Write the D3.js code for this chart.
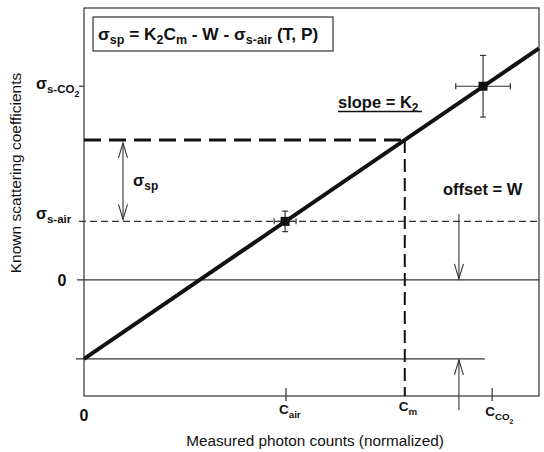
<!DOCTYPE html>
<html>
<head>
<meta charset="utf-8">
<script src="https://cdn.jsdelivr.net/npm/d3@7"></script>
<style>
  html, body { margin: 0; padding: 0; background: #fff; }
  svg { display: block; font-family: "Liberation Sans", Arial, sans-serif; }
</style>
</head>
<body>
<svg id="chart" width="544" height="452"></svg>
<script>
// Calibration model (normalized units)
const K2 = 3.93;          // slope
const W = 1.0;            // offset
const sigmaAir = 0.74;    // known scattering of air
const sigmaCO2 = 2.45;    // known scattering of CO2
const xDomain = [0, 1];
const yDomain = [-1.47, 3.44];

// Positions on the count axis
const xTicks = [
  { key: "0", x: 0 },
  { key: "air", x: 0.444 },
  { key: "m", x: 0.705 },
  { key: "CO2", x: 0.897 }
];
const Cm = 0.705;
const arrowX = 0.824;

// Calibration points with error bars
const points = [
  { name: "air", x: 0.442, y: sigmaAir, ex: 0.024, ey: 0.13 },
  { name: "CO2", x: 0.877, y: sigmaCO2, ex: 0.06, ey: 0.39 }
];

const svg = d3.select("#chart");
const x = d3.scaleLinear().domain(xDomain).range([84, 539]);
const y = d3.scaleLinear().domain(yDomain).range([396, 8]);
const fit = v => -W + K2 * v;
const ink = "#111";

// Frame
svg.append("rect")
  .attr("x", x(0)).attr("y", y(yDomain[1]))
  .attr("width", x(1) - x(0)).attr("height", y(yDomain[0]) - y(yDomain[1]))
  .attr("fill", "none").attr("stroke", "#333").attr("stroke-width", 1.2);

// Zero level and offset level
svg.append("line")
  .attr("x1", x(0) - 7).attr("x2", x(1)).attr("y1", y(0)).attr("y2", y(0))
  .attr("stroke", "#333").attr("stroke-width", 1.2);
svg.append("line")
  .attr("x1", x(0) - 8).attr("x2", x(0.881)).attr("y1", y(-W)).attr("y2", y(-W))
  .attr("stroke", "#333").attr("stroke-width", 1.2);

// Air scattering level
svg.append("line")
  .attr("x1", x(0) - 5).attr("x2", x(1)).attr("y1", y(sigmaAir)).attr("y2", y(sigmaAir))
  .attr("stroke", "#333").attr("stroke-width", 1.1).attr("stroke-dasharray", "7,4");

// CO2 tick on the y axis
svg.append("line")
  .attr("x1", x(0) - 5).attr("x2", x(0)).attr("y1", y(sigmaCO2)).attr("y2", y(sigmaCO2))
  .attr("stroke", "#333").attr("stroke-width", 1.2);

// Measured level and count
const sm = fit(Cm);
svg.append("line")
  .attr("x1", x(0)).attr("x2", x(Cm)).attr("y1", y(sm)).attr("y2", y(sm))
  .attr("stroke", ink).attr("stroke-width", 3).attr("stroke-dasharray", "17,8");
svg.append("line")
  .attr("x1", x(Cm)).attr("x2", x(Cm)).attr("y1", y(sm)).attr("y2", y(yDomain[0]))
  .attr("stroke", ink).attr("stroke-width", 2).attr("stroke-dasharray", "13,6");

// X ticks
svg.selectAll(".xtick").data(xTicks.filter(d => d.key !== "0" && d.key !== "m"))
  .join("line")
  .attr("x1", d => x(d.x)).attr("x2", d => x(d.x))
  .attr("y1", y(yDomain[0]) - 8).attr("y2", y(yDomain[0]) + 5)
  .attr("stroke", "#333").attr("stroke-width", 1.2);

// Regression line
svg.append("line")
  .attr("x1", x(0)).attr("y1", y(fit(0)))
  .attr("x2", x(1)).attr("y2", y(fit(1)))
  .attr("stroke", ink).attr("stroke-width", 4);

// Error bars and points
points.forEach(p => {
  const g = svg.append("g").attr("stroke", "#333").attr("stroke-width", 1.2);
  g.append("line").attr("x1", x(p.x - p.ex)).attr("x2", x(p.x + p.ex)).attr("y1", y(p.y)).attr("y2", y(p.y));
  g.append("line").attr("x1", x(p.x)).attr("x2", x(p.x)).attr("y1", y(p.y - p.ey)).attr("y2", y(p.y + p.ey));
  [p.x - p.ex, p.x + p.ex].forEach(v => g.append("line")
    .attr("x1", x(v)).attr("x2", x(v)).attr("y1", y(p.y) - 3).attr("y2", y(p.y) + 3));
  [p.y - p.ey, p.y + p.ey].forEach(v => g.append("line")
    .attr("x1", x(p.x) - 3).attr("x2", x(p.x) + 3).attr("y1", y(v)).attr("y2", y(v)));
  svg.append("rect").attr("x", x(p.x) - 4.5).attr("y", y(p.y) - 4.5)
    .attr("width", 9).attr("height", 9).attr("fill", ink);
});

// Open arrowheads
function arrow(x0, y0, y1, heads) {
  const g = svg.append("g").attr("stroke", "#333").attr("stroke-width", 1.1).attr("fill", "none");
  g.append("line").attr("x1", x0).attr("x2", x0).attr("y1", y0).attr("y2", y1);
  heads.forEach(h => {
    const tip = h === "start" ? y0 : y1;
    const dir = h === "start" ? Math.sign(y1 - y0) : Math.sign(y0 - y1);
    g.append("path").attr("d", `M${x0 - 4.5},${tip + dir * 15}L${x0},${tip}L${x0 + 4.5},${tip + dir * 15}`);
  });
}
arrow(123, y(sm) + 3, y(sigmaAir) - 2, ["start", "end"]);
arrow(x(arrowX), y(sigmaAir) - 7, y(0) - 1, ["end"]);
arrow(x(arrowX), y(yDomain[0]) + 14, y(-W) + 1, ["end"]);

// Text helpers
function sub(textSel, parts) {
  parts.forEach(([t, isSub, size]) => {
    const ts = textSel.append("tspan").text(t);
    if (isSub) ts.attr("dy", 4).attr("font-size", size || "0.72em");
    else ts.attr("dy", textSel.node().lastSub ? -4 : 0);
    textSel.node().lastSub = isSub;
  });
}

// Equation box
svg.append("rect").attr("x", 93).attr("y", 17).attr("width", 240).attr("height", 34)
  .attr("fill", "#fff").attr("stroke", "#333").attr("stroke-width", 1.2);
const eq = svg.append("text").attr("x", 98).attr("y", 40)
  .attr("font-size", 17.3).attr("font-weight", "bold").attr("fill", ink);
sub(eq, [["σ", false], ["sp", true], [" = K", false], ["2", true], ["C", false], ["m", true],
         [" - W - σ", false], ["s-air", true], [" (T, P)", false]]);

// Slope label
const sl = svg.append("text").attr("x", 338).attr("y", 108)
  .attr("font-size", 16.5).attr("font-weight", "bold").attr("fill", ink);
sub(sl, [["slope = K", false], ["2", true]]);
svg.append("line").attr("x1", 338).attr("x2", 422).attr("y1", 111.5).attr("y2", 111.5)
  .attr("stroke", ink).attr("stroke-width", 1.5);

// Offset label
svg.append("text").attr("x", 443).attr("y", 195)
  .attr("font-size", 16.5).attr("font-weight", "bold").attr("fill", ink).text("offset = W");

// σsp label
const sp = svg.append("text").attr("x", 133).attr("y", 186)
  .attr("font-size", 16.5).attr("font-weight", "bold").attr("fill", ink);
sub(sp, [["σ", false], ["sp", true]]);

// Y labels
const yl1 = svg.append("text").attr("x", 36).attr("y", 89)
  .attr("font-size", 16).attr("font-weight", "bold").attr("fill", ink);
sub(yl1, [["σ", false], ["s-CO", true], ["2", true, "0.55em"]]);
const yl2 = svg.append("text").attr("x", 36).attr("y", 219)
  .attr("font-size", 16).attr("font-weight", "bold").attr("fill", ink);
sub(yl2, [["σ", false], ["s-air", true]]);
svg.append("text").attr("x", 62).attr("y", 286).attr("text-anchor", "middle")
  .attr("font-size", 16).attr("font-weight", "bold").attr("fill", ink).text("0");

// X labels
svg.append("text").attr("x", x(0)).attr("y", 421).attr("text-anchor", "middle")
  .attr("font-size", 16).attr("font-weight", "bold").attr("fill", ink).text("0");
const xlAir = svg.append("text").attr("x", x(0.444) - 7).attr("y", 414)
  .attr("font-size", 13.5).attr("font-weight", "bold").attr("fill", ink);
sub(xlAir, [["C", false], ["air", true]]);
const xlM = svg.append("text").attr("x", x(Cm) - 6).attr("y", 411)
  .attr("font-size", 13.5).attr("font-weight", "bold").attr("fill", ink);
sub(xlM, [["C", false], ["m", true]]);
const xlC = svg.append("text").attr("x", x(0.897) - 7).attr("y", 416)
  .attr("font-size", 13.5).attr("font-weight", "bold").attr("fill", ink);
sub(xlC, [["C", false], ["CO", true], ["2", true, "0.5em"]]);

// Axis titles
svg.append("text").attr("x", 315).attr("y", 446).attr("text-anchor", "middle")
  .attr("font-size", 15.3).attr("fill", ink).text("Measured photon counts (normalized)");
svg.append("text").attr("transform", "translate(21,173) rotate(-90)").attr("text-anchor", "middle")
  .attr("font-size", 15.5).attr("fill", ink).text("Known scattering coefficients");
</script>
</body>
</html>
